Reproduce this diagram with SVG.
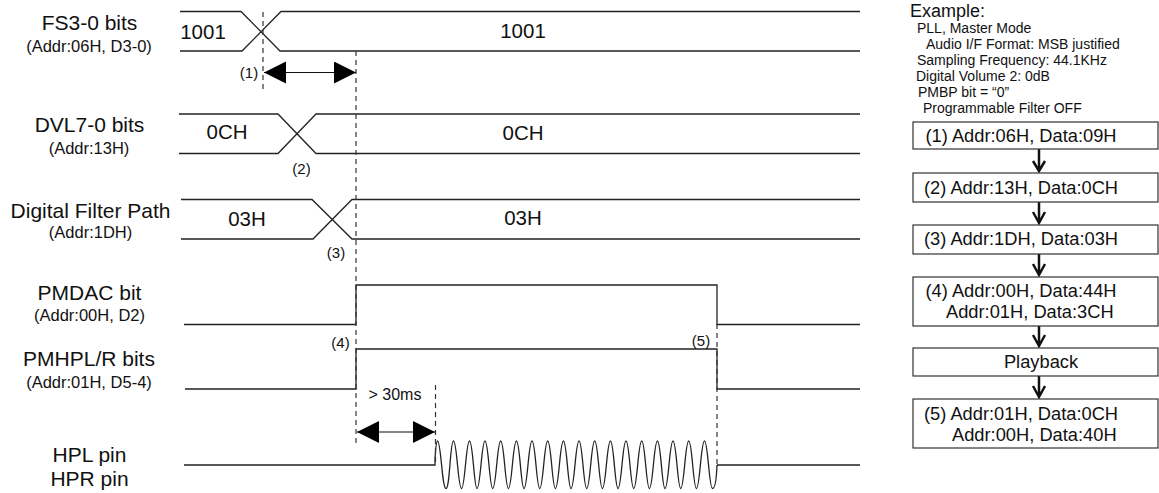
<svg xmlns="http://www.w3.org/2000/svg" width="1159" height="493" viewBox="0 0 1159 493">
<style>
text{font-family:"Liberation Sans",Arial,sans-serif;fill:#111}
.t{font-size:21px;text-anchor:middle}
.s{font-size:16.500px;text-anchor:middle}
.v{font-size:20.500px;text-anchor:middle}
.n{font-size:15px;text-anchor:middle}
.e{font-size:14px}
.b{font-size:18.300px}
.w{fill:none;stroke:#222;stroke-width:1.3}
.d{fill:none;stroke:#333;stroke-width:1.2;stroke-dasharray:5 4}
.box{fill:#fff;stroke:#333;stroke-width:1.2}
.a{fill:none;stroke:#111;stroke-width:1.2}
.f{fill:none;stroke:#111;stroke-width:2.500}
</style>
<defs>
<marker id="h" markerUnits="userSpaceOnUse" markerWidth="23" markerHeight="23" refX="22" refY="11" orient="auto-start-reverse"><path d="M0 0L22 11L0 22Z" fill="#000"/></marker>
</defs>
<g id="connectors">
<path class="w" d="M180 11.500H241L280 51H860M180 51H242L281 11.500H860"/>
<path class="w" d="M179 114H278L316 153.500H860M179 153.500H278L316 114H860"/>
<path class="w" d="M181 199.500H312L352 239H860M181 239H313L352 199.500H860"/>
<path class="w" d="M184 324.500H356V285H717V324.500H860"/>
<path class="w" d="M185 389H356V349H717V389H860"/>
<path class="w" d="M184 465H435V459M717 465H860"/>
<path class="w" d="M435 459C435.700 449 436 441 437.500 441C441 441 442 488.500 446 488.500C450 488.500 450 441 453.500 441C457 441 458 488.500 461.500 488.500C465 488.500 466 441 469.500 441C473 441 474 488.500 477 488.500C480.500 488.500 481.500 441 485 441C488.500 441 489.500 488.500 492.700 488.500C496.200 488.500 497.200 441 500.700 441C504.200 441 505.200 488.500 508.400 488.500C511.900 488.500 512.900 441 516.400 441C519.900 441 520.900 488.500 524 488.500C527.500 488.500 528.500 441 532 441C535.500 441 536.500 488.500 539.700 488.500C543.200 488.500 544.200 441 547.700 441C551.200 441 552.200 488.500 555.400 488.500C558.900 488.500 559.900 441 563.400 441C566.900 441 567.900 488.500 571 488.500C574.500 488.500 575.500 441 579 441C582.500 441 583.500 488.500 586.700 488.500C590.200 488.500 591.200 441 594.700 441C598.200 441 599.200 488.500 602.400 488.500C605.900 488.500 606.900 441 610.400 441C613.900 441 614.900 488.500 618 488.500C621.500 488.500 622.500 441 626 441C629.500 441 630.500 488.500 633.700 488.500C637.200 488.500 638.200 441 641.700 441C645.200 441 646.200 488.500 649.400 488.500C652.900 488.500 653.900 441 657.400 441C660.900 441 661.900 488.500 665 488.500C668.500 488.500 669.500 441 673 441C676.500 441 677.500 488.500 680.700 488.500C684.200 488.500 685.200 441 688.700 441C692.200 441 693.200 488.500 696.400 488.500C699.900 488.500 700.900 441 704.500 441C708 441 709 488.500 712.500 488.500C715 488.500 716.500 478 717 465"/>
<path class="d" d="M263 12V91M356 51V447M435.500 385V465M717 324V465"/>
<path class="a" d="M264 72.500H356" marker-start="url(#h)" marker-end="url(#h)"/>
<path class="a" d="M357 432H435" marker-start="url(#h)" marker-end="url(#h)"/>
<path class="f" d="M1039 149V170M1033 161L1039 171L1045 161"/>
<path class="f" d="M1039 202V222M1033 212L1039 223L1045 212"/>
<path class="f" d="M1039 254V274M1033 264L1039 275L1045 264"/>
<path class="f" d="M1039 326V345M1033 335L1039 346L1045 335"/>
<path class="f" d="M1039 376V396M1033 386L1039 397L1045 386"/>
</g>
<g id="label-fs"><text class="t" x="89.500" y="30">FS3-0 bits</text><text class="s" x="89" y="52">(Addr:06H, D3-0)</text></g>
<g id="label-dvl"><text class="t" x="89.500" y="132">DVL7-0 bits</text><text class="s" x="89" y="154">(Addr:13H)</text></g>
<g id="label-dfp"><text class="t" x="90.500" y="218">Digital Filter Path</text><text class="s" x="90.500" y="238">(Addr:1DH)</text></g>
<g id="label-pmdac"><text class="t" x="89.500" y="300">PMDAC bit</text><text class="s" x="89.500" y="321">(Addr:00H, D2)</text></g>
<g id="label-pmhpl"><text class="t" x="89" y="366">PMHPL/R bits</text><text class="s" x="89" y="388">(Addr:01H, D5-4)</text></g>
<g id="label-hp"><text class="t" x="89.500" y="462">HPL pin</text><text class="t" x="89.500" y="486">HPR pin</text></g>
<g id="values">
<text class="v" x="203" y="39">1001</text><text class="v" x="523" y="38">1001</text>
<text class="v" x="227" y="139">0CH</text><text class="v" x="523" y="140">0CH</text>
<text class="v" x="247" y="226">03H</text><text class="v" x="523" y="225">03H</text>
<text class="n" x="249" y="78">(1)</text><text class="n" x="301.500" y="174">(2)</text><text class="n" x="336" y="258">(3)</text>
<text class="n" x="340.500" y="348">(4)</text><text class="n" x="701" y="346">(5)</text>
<text class="n" x="395" y="400" style="font-size:16px">&gt; 30ms</text>
</g>
<g id="example">
<text x="910" y="17" style="font-size:18px">Example:</text>
<text class="e" x="917" y="33">PLL, Master Mode</text>
<text class="e" x="926" y="49">Audio I/F Format: MSB justified</text>
<text class="e" x="917" y="65">Sampling Frequency: 44.1KHz</text>
<text class="e" x="916" y="81">Digital Volume 2: 0dB</text>
<text class="e" x="918" y="97">PMBP bit = “0”</text>
<text class="e" x="923" y="113">Programmable Filter OFF</text>
</g>
<g id="step1"><rect class="box" x="913" y="122" width="245" height="27"/><text class="b" x="925.500" y="142">(1) Addr:06H, Data:09H</text></g>
<g id="step2"><rect class="box" x="913" y="173" width="245" height="29"/><text class="b" x="924" y="194">(2) Addr:13H, Data:0CH</text></g>
<g id="step3"><rect class="box" x="913" y="225" width="245" height="29"/><text class="b" x="924" y="245">(3) Addr:1DH, Data:03H</text></g>
<g id="step4"><rect class="box" x="913" y="277" width="245" height="49"/><text class="b" x="925.500" y="297">(4) Addr:00H, Data:44H</text><text class="b" x="946" y="318">Addr:01H, Data:3CH</text></g>
<g id="playback"><rect class="box" x="913" y="348" width="245" height="28"/><text class="b" x="1041" y="368" text-anchor="middle">Playback</text></g>
<g id="step5"><rect class="box" x="913" y="399" width="245" height="49"/><text class="b" x="924" y="420">(5) Addr:01H, Data:0CH</text><text class="b" x="952" y="441">Addr:00H, Data:40H</text></g>
</svg>
